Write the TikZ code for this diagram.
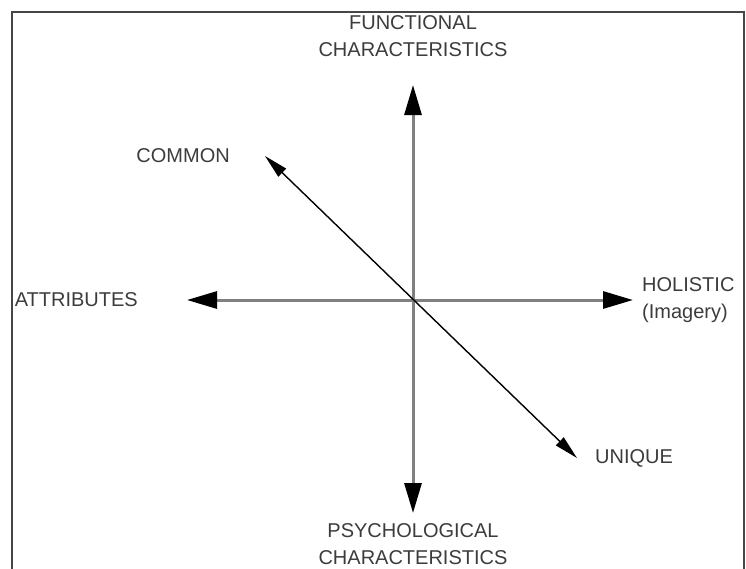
\documentclass[tikz,border=0pt]{standalone}
\usepackage{fontspec}
\setmainfont{Liberation Sans}
\usetikzlibrary{positioning,arrows.meta}

\definecolor{axisgray}{RGB}{128,128,128}
\definecolor{labelgray}{RGB}{60,60,60}
\definecolor{framegray}{RGB}{70,70,70}

\tikzset{
  axis/.style={draw=axisgray, line width=3pt,
    -{Triangle[length=30pt,width=17pt,black]}},
  diag/.style={draw=black, line width=1.4pt,
    {Triangle[length=24pt,width=11pt]}-{Triangle[length=24pt,width=11pt]}},
  lbl/.style={text=labelgray, font=\fontsize{20}{27}\selectfont, inner sep=0pt},
}

\begin{document}
\begin{tikzpicture}[x=1pt,y=-1pt]
  \useasboundingbox (0,0) rectangle (746,568);
  \draw[framegray, line width=2pt] (12,580) -- (12,12) -- (744,12) -- (744,580);

  % axes
  \coordinate (o) at (413,300);
  \coordinate (up) at (413,85);
  \coordinate (down) at (413,513);
  \coordinate (lft) at (187,300);
  \coordinate (rgt) at (633,300);
  \coordinate (cm) at (265,156);
  \coordinate (uq) at (577,458);

  \draw[axis] (o) -- (up);
  \draw[axis] (o) -- (down);
  \draw[axis] (o) -- (lft);
  \draw[axis] (o) -- (rgt);
  \draw[diag] (cm) -- (uq);

  % labels
  \node[lbl, align=center, above=28pt of up] (fnc) {FUNCTIONAL\\CHARACTERISTICS};
  \node[lbl, align=center, below=10pt of down] (psy) {PSYCHOLOGICAL\\CHARACTERISTICS};
  \node[lbl, left=49pt of lft] (attr) {ATTRIBUTES};
  \node[lbl, align=left, right=9pt of rgt] (hol) {HOLISTIC\\(Imagery)};
  \node[lbl, left=35pt of cm] (com) {COMMON};
  \node[lbl, right=18pt of uq] (unq) {UNIQUE};
\end{tikzpicture}
\end{document}
